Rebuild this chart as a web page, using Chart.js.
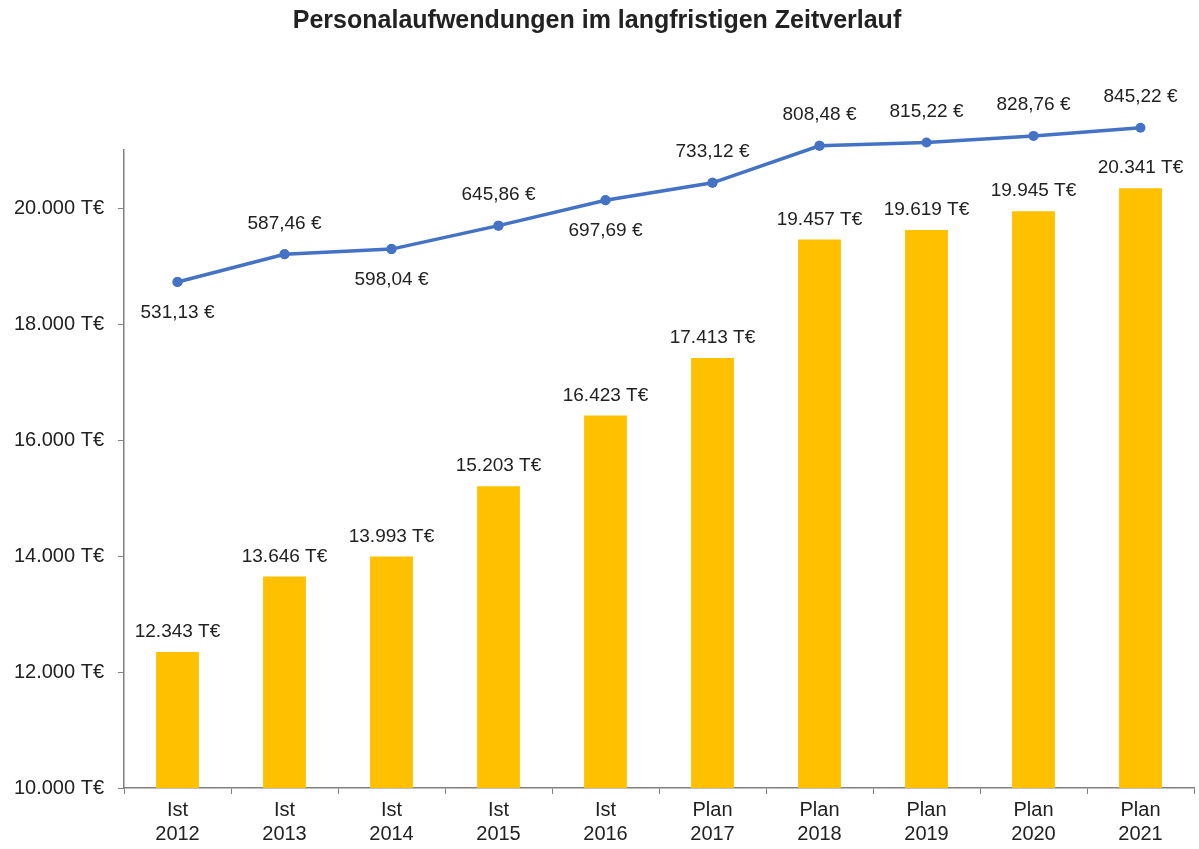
<!DOCTYPE html>
<html lang="de">
<head>
<meta charset="utf-8">
<title>Personalaufwendungen im langfristigen Zeitverlauf</title>
<script src="https://cdn.jsdelivr.net/npm/chart.js@4/dist/chart.umd.min.js"></script>
<style>
  html, body { margin: 0; padding: 0; background: #fff; }
  #wrap { width: 1199px; height: 849px; }
</style>
</head>
<body>
<div id="wrap"><canvas id="chart" width="1199" height="849"></canvas></div>
<script>
const CATEGORIES = [
  ['Ist', '2012'], ['Ist', '2013'], ['Ist', '2014'], ['Ist', '2015'], ['Ist', '2016'],
  ['Plan', '2017'], ['Plan', '2018'], ['Plan', '2019'], ['Plan', '2020'], ['Plan', '2021'],
];
// Personalaufwand in T€
const COSTS = [12343, 13646, 13993, 15203, 16423, 17413, 19457, 19619, 19945, 20341];
// Aufwand pro Kopf in €
const PER_HEAD = [531.13, 587.46, 598.04, 645.86, 697.69, 733.12, 808.48, 815.22, 828.76, 845.22];
const Y_TICKS = [10000, 12000, 14000, 16000, 18000, 20000];

const FONT = "'Liberation Sans', Arial, sans-serif";
const TEXT = '#222222';
const BLUE = '#4472C4';

function thousands(v) {
  return String(Math.round(v)).replace(/\B(?=(\d{3})+(?!\d))/g, '.');
}

function euro(v) {
  return v.toFixed(2).replace('.', ',') + ' €';
}

// draws the value labels, excel style
const valueLabels = {
  id: 'valueLabels',
  afterDatasetsDraw(chart, args, opts) {
    const ctx = chart.ctx;
    ctx.save();

    // chart.js skips points outside the chart area, the last ones sit above it
    ctx.fillStyle = BLUE;
    chart.getDatasetMeta(1).data.forEach((pt) => {
      ctx.beginPath();
      ctx.arc(pt.x, pt.y, opts.pointRadius, 0, Math.PI * 2);
      ctx.fill();
    });

    ctx.font = `${opts.size}px ${FONT}`;
    ctx.fillStyle = TEXT;
    ctx.textAlign = 'center';
    ctx.textBaseline = 'middle';

    chart.getDatasetMeta(0).data.forEach((bar, i) => {
      ctx.fillText(thousands(COSTS[i]) + ' T€', bar.x, bar.y - opts.barGap);
    });

    chart.getDatasetMeta(1).data.forEach((pt, i) => {
      const below = opts.lineBelow.includes(i);
      ctx.fillText(euro(PER_HEAD[i]), pt.x, pt.y + (below ? opts.lineGap : -opts.lineGap));
    });
    ctx.restore();
  },
};

const ctx = document.getElementById('chart');

new Chart(ctx, {
  data: {
    labels: CATEGORIES,
    datasets: [
      {
        type: 'bar',
        label: 'Personalaufwand',
        data: COSTS,
        yAxisID: 'y',
        backgroundColor: '#FFC000',
        barPercentage: 0.8,
        categoryPercentage: 0.5,
        order: 1,
      },
      {
        type: 'line',
        label: 'pro Kopf',
        data: PER_HEAD,
        yAxisID: 'y1',
        borderColor: BLUE,
        backgroundColor: BLUE,
        borderWidth: 3.5,
        pointRadius: 5,
        pointBackgroundColor: BLUE,
        pointBorderWidth: 0,
        tension: 0,
        clip: false,
        order: 0,
      },
    ],
  },
  options: {
    responsive: false,
    animation: false,
    layout: { padding: { left: 0, right: 5, top: 0, bottom: 0 } },
    plugins: {
      legend: { display: false },
      tooltip: { enabled: false },
      title: {
        display: true,
        text: 'Personalaufwendungen im langfristigen Zeitverlauf',
        color: TEXT,
        font: { family: FONT, size: 25, weight: 'bold', lineHeight: 1.2 },
        padding: { top: 6, bottom: 114 },
      },
      valueLabels: { size: 19, barGap: 20, lineGap: 31, lineBelow: [0, 2, 4], pointRadius: 5 },
    },
    scales: {
      x: {
        offset: true,
        grid: { offset: true, drawOnChartArea: false, tickLength: 6, color: '#808080' },
        border: { color: '#808080', width: 1.5 },
        ticks: { color: TEXT, font: { family: FONT, size: 20, lineHeight: 1.2 }, padding: 4, maxRotation: 0 },
        afterFit(scale) { scale.height = 61; },
      },
      y: {
        min: 10000,
        max: 21000,
        grid: { drawOnChartArea: false, tickLength: 6, color: '#808080' },
        border: { color: '#808080', width: 1.5 },
        ticks: {
          color: TEXT,
          font: { family: FONT, size: 20 },
          padding: 14,
          callback: (v) => thousands(v) + ' T€',
        },
        afterBuildTicks(scale) { scale.ticks = Y_TICKS.map(v => ({ value: v })); },
        afterFit(scale) { scale.width = 124; },
      },
      y1: {
        display: false,
        min: -500,
        max: 800,
      },
    },
  },
  plugins: [valueLabels],
});
</script>
</body>
</html>
